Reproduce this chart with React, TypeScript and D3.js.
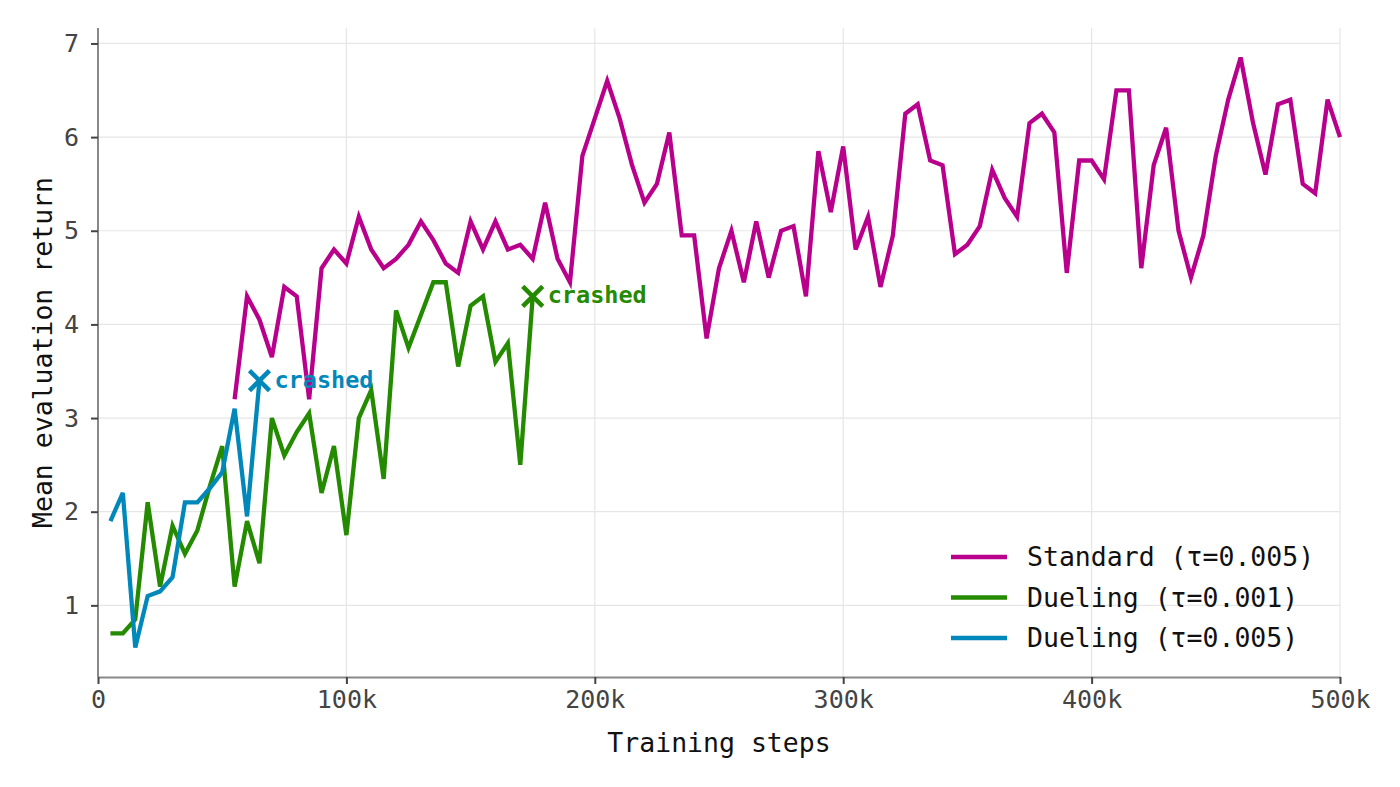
import React, { useEffect, useRef } from "react";
import * as d3 from "d3";

// evaluation every 5k steps
const standardStart = 55000;
const standardValues = [
  3.2, 4.3, 4.05, 3.65, 4.4, 4.3, 3.2, 4.6, 4.8, 4.65, 5.15, 4.8, 4.6, 4.7, 4.85,
  5.1, 4.9, 4.65, 4.55, 5.1, 4.8, 5.1, 4.8, 4.85, 4.7, 5.3, 4.7, 4.45, 5.8, 6.2,
  6.6, 6.2, 5.7, 5.3, 5.5, 6.05, 4.95, 4.95, 3.85, 4.6, 5.0, 4.45, 5.1, 4.5, 5.0,
  5.05, 4.3, 5.85, 5.2, 5.9, 4.8, 5.15, 4.4, 4.95, 6.25, 6.35, 5.75, 5.7, 4.75,
  4.85, 5.05, 5.65, 5.35, 5.15, 6.15, 6.25, 6.05, 4.55, 5.75, 5.75, 5.55, 6.5,
  6.5, 4.6, 5.7, 6.1, 5.0, 4.5, 4.95, 5.8, 6.4, 6.85, 6.15, 5.6, 6.35, 6.4, 5.5,
  5.4, 6.4, 6.0,
];

const duelingSlowStart = 5000;
const duelingSlowValues = [
  0.7, 0.7, 0.85, 2.1, 1.2, 1.85, 1.55, 1.8, 2.27, 2.7, 1.2, 1.9, 1.45, 3.0, 2.6,
  2.85, 3.05, 2.2, 2.7, 1.75, 3.0, 3.3, 2.35, 4.15, 3.75, 4.1, 4.45, 4.45, 3.55,
  4.2, 4.3, 3.6, 3.8, 2.5, 4.3,
];

const duelingFastStart = 5000;
const duelingFastValues = [
  1.9, 2.2, 0.55, 1.1, 1.15, 1.3, 2.1, 2.1, 2.25, 2.42, 3.1, 1.95, 3.4,
];

const xTicks = [0, 100000, 200000, 300000, 400000, 500000];
const yTicks = [1, 2, 3, 4, 5, 6, 7];

type Series = {
  name: string;
  color: string;
  start: number;
  values: number[];
  crashed: boolean;
};

const series: Series[] = [
  { name: "Standard (τ=0.005)", color: "#b8008c", start: standardStart, values: standardValues, crashed: false },
  { name: "Dueling (τ=0.001)", color: "#248a00", start: duelingSlowStart, values: duelingSlowValues, crashed: true },
  { name: "Dueling (τ=0.005)", color: "#0088bb", start: duelingFastStart, values: duelingFastValues, crashed: true },
];

const STEP = 5000;
const FONT = "'DejaVu Sans Mono', 'Liberation Mono', monospace";

const Chart = () => {
  const ref = useRef<SVGSVGElement>(null);

  useEffect(() => {
    const width = 1400;
    const height = 787;
    const margin = { top: 28, right: 60, bottom: 110, left: 98 };
    const innerW = width - margin.left - margin.right;
    const innerH = height - margin.top - margin.bottom;

    const svg = d3.select(ref.current);
    svg.selectAll("*").remove();
    svg.attr("width", width).attr("height", height);

    const g = svg.append("g").attr("transform", `translate(${margin.left},${margin.top})`);

    // 5% padding around the data range on y
    const allValues = series.flatMap((s) => s.values);
    const lo = d3.min(allValues) as number;
    const hi = d3.max(allValues) as number;
    const pad = (hi - lo) * 0.05;

    const x = d3.scaleLinear().domain([0, 500000]).range([0, innerW]);
    const y = d3.scaleLinear().domain([lo - pad, hi + pad]).range([innerH, 0]);

    // grid
    g.append("g")
      .selectAll("line")
      .data(yTicks)
      .join("line")
      .attr("x1", 0)
      .attr("x2", innerW)
      .attr("y1", (d) => y(d))
      .attr("y2", (d) => y(d))
      .attr("stroke", "#e6e6e6")
      .attr("stroke-width", 1.2);
    g.append("g")
      .selectAll("line")
      .data(xTicks.slice(1))
      .join("line")
      .attr("x1", (d) => x(d))
      .attr("x2", (d) => x(d))
      .attr("y1", 0)
      .attr("y2", innerH)
      .attr("stroke", "#e6e6e6")
      .attr("stroke-width", 1.2);

    // axes
    const xAxis = d3
      .axisBottom(x)
      .tickValues(xTicks)
      .tickFormat((d) => ((d as number) === 0 ? "0" : `${(d as number) / 1000}k`))
      .tickSize(7)
      .tickPadding(6)
      .tickSizeOuter(0);
    const gx = g.append("g").attr("transform", `translate(0,${innerH})`).call(xAxis);

    const yAxis = d3
      .axisLeft(y)
      .tickValues(yTicks)
      .tickFormat(d3.format("d"))
      .tickSize(7)
      .tickPadding(12)
      .tickSizeOuter(0);
    const gy = g.append("g").call(yAxis);

    [gx, gy].forEach((ax) => {
      ax.select(".domain").attr("stroke", "#888").attr("stroke-width", 2);
      ax.selectAll(".tick line").attr("stroke", "#444").attr("stroke-width", 2);
      ax.selectAll(".tick text")
        .attr("fill", "#444")
        .style("font-family", FONT)
        .style("font-size", "25px");
    });
    gy.select(".domain").attr("d", `M0,0V${innerH}`);

    // axis titles
    g.append("text")
      .attr("x", innerW / 2)
      .attr("y", innerH + 75)
      .attr("text-anchor", "middle")
      .style("font-family", FONT)
      .style("font-size", "26.5px")
      .attr("fill", "#111")
      .text("Training steps");
    g.append("text")
      .attr("transform", `translate(${-46},${innerH / 2}) rotate(-90)`)
      .attr("text-anchor", "middle")
      .style("font-family", FONT)
      .style("font-size", "26.5px")
      .attr("fill", "#111")
      .text("Mean evaluation return");

    const path = d3
      .line<[number, number]>()
      .x((d) => x(d[0]))
      .y((d) => y(d[1]));

    series.forEach((s) => {
      const pts = s.values.map((v, i) => [s.start + i * STEP, v] as [number, number]);
      g.append("path")
        .datum(pts)
        .attr("d", path)
        .attr("fill", "none")
        .attr("stroke", s.color)
        .attr("stroke-width", 4.3)
        .attr("stroke-linejoin", "miter")
        .attr("stroke-linecap", "butt");

      // end marker + label for runs that died
      if (s.crashed) {
        const last = pts[pts.length - 1];
        const cx = x(last[0]);
        const cy = y(last[1]);
        const r = 10;
        g.append("path")
          .attr("d", `M${cx - r},${cy - r}L${cx + r},${cy + r}M${cx - r},${cy + r}L${cx + r},${cy - r}`)
          .attr("stroke", s.color)
          .attr("stroke-width", 4.5)
          .attr("fill", "none");
        g.append("text")
          .attr("x", cx + 15)
          .attr("y", cy + 7)
          .style("font-family", FONT)
          .style("font-size", "23.5px")
          .style("font-weight", "bold")
          .attr("fill", s.color)
          .text("crashed");
      }
    });

    // legend
    const legend = g.append("g").attr("transform", `translate(${951 - margin.left},${557 - margin.top})`);
    series.forEach((s, i) => {
      const row = legend.append("g").attr("transform", `translate(0,${i * 40.5})`);
      row.append("line")
        .attr("x1", 0)
        .attr("x2", 56)
        .attr("stroke", s.color)
        .attr("stroke-width", 4.5);
      row.append("text")
        .attr("x", 76)
        .attr("y", 9)
        .style("font-family", FONT)
        .style("font-size", "26.5px")
        .attr("fill", "#111")
        .text(s.name);
    });
  }, []);

  return <svg ref={ref} style={{ display: "block" }}></svg>;
};

export default function App() {
  return (
    <div style={{ margin: -8, background: "#fff" }}>
      <Chart />
    </div>
  );
}
